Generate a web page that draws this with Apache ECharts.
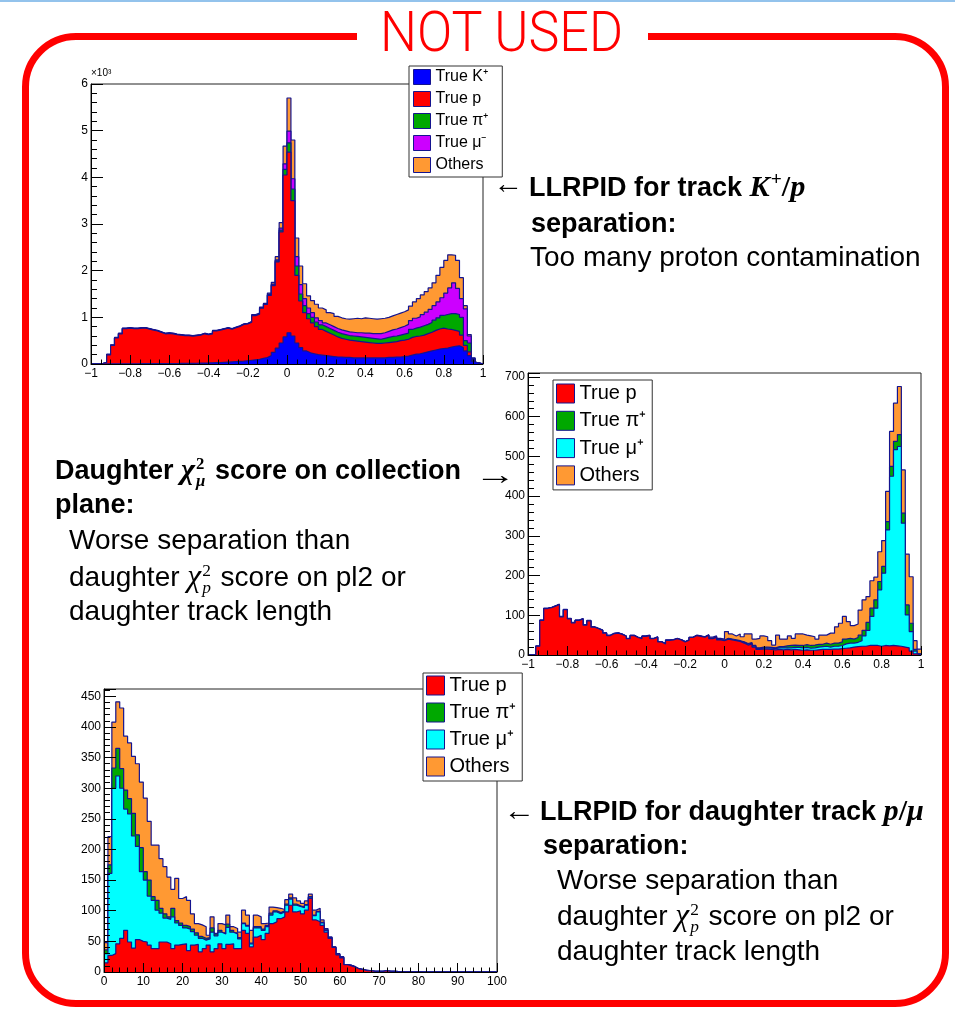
<!DOCTYPE html>
<html>
<head>
<meta charset="utf-8">
<script src="https://cdn.jsdelivr.net/npm/echarts/dist/echarts.min.js"></script>
<style>
html,body{margin:0;padding:0;background:#fff;width:955px;height:1012px;overflow:hidden;}
#topline{position:absolute;left:0;top:0;width:955px;height:2px;background:#93c3ec;}
#frame{position:absolute;left:22px;top:32.5px;width:927px;height:974px;box-sizing:border-box;border:7px solid #ff0000;border-radius:54px;}
#gap{position:absolute;left:357px;top:26px;width:291px;height:20px;background:#fff;}
#chart{position:absolute;left:0;top:0;width:955px;height:1012px;}
.t{position:absolute;white-space:nowrap;font-family:'Liberation Sans',Arial,Helvetica,sans-serif;line-height:1;color:#000;transform-origin:0 0;}
.b{font-weight:bold;font-size:27px;}
.r{font-size:28px;}
.m{font-family:'Liberation Serif','DejaVu Serif',serif;font-style:italic;font-size:1.12em;}
.mr{font-family:'Liberation Serif','DejaVu Serif',serif;font-style:normal;font-size:1.12em;}
.sp{font-family:'Liberation Serif','DejaVu Serif',serif;font-size:0.72em;position:relative;top:-0.55em;margin-left:1px;}
.ss{display:inline-block;font-family:'Liberation Serif','DejaVu Serif',serif;font-size:0.62em;line-height:1;vertical-align:-0.4em;margin-left:1px;margin-right:2px;}
.ss>span{display:block;}
.mi{font-style:italic;}
#title{font-family:'Roboto','Liberation Sans',sans-serif;font-weight:300;font-size:55px;color:#ff0000;}
</style>
</head>
<body>
<div id="topline"></div>
<div id="frame"></div>
<div id="gap"></div>
<div id="chart"></div>

<div class="t" id="title" data-w="243" style="left:380px;top:5px;">NOT USED</div>

<!-- annotation 1 -->
<div class="t r" data-w="30" style="left:493px;top:170px;">←</div>
<div class="t b" style="left:529px;top:171px;">LLRPID for track <span class="m">K</span><span class="sp">+</span><span class="mr">/</span><span class="m">p</span></div>
<div class="t b" style="left:531px;top:210px;">separation:</div>
<div class="t r" style="left:530px;top:243px;">Too many proton contamination</div>

<!-- annotation 2 -->
<div class="t b" style="left:55px;top:454px;">Daughter <span class="m">χ</span><span class="ss"><span>2</span><span class="mi">μ</span></span> score on collection</div>
<div class="t r" data-w="42" style="left:474px;top:461px;">→</div>
<div class="t b" style="left:55px;top:491px;">plane:</div>
<div class="t r" style="left:69px;top:526px;">Worse separation than</div>
<div class="t r" style="left:69px;top:560px;">daughter <span class="m">χ</span><span class="ss"><span>2</span><span class="mi">p</span></span> score on pl2 or</div>
<div class="t r" style="left:69px;top:597px;">daughter track length</div>

<!-- annotation 3 -->
<div class="t r" data-w="32" style="left:503px;top:797px;">←</div>
<div class="t b" style="left:540px;top:795px;">LLRPID for daughter track <span class="m">p</span><span class="mr">/</span><span class="m">μ</span></div>
<div class="t b" style="left:543px;top:832px;">separation:</div>
<div class="t r" style="left:557px;top:866px;">Worse separation than</div>
<div class="t r" style="left:557px;top:899px;">daughter <span class="m">χ</span><span class="ss"><span>2</span><span class="mi">p</span></span> score on pl2 or</div>
<div class="t r" style="left:557px;top:937px;">daughter track length</div>

<script>
// ---------------- DATA ----------------
// Chart 1: LLRPID for track K+/p  (100 bins on [-1,1], counts in units of 10^3)
const c1K = [0,0,0,.002,.005,.005,.005,.005,.005,.005,
 .005,.005,.006,.006,.006,.007,.007,.008,.008,.009,
 .010,.010,.012,.012,.013,.015,.016,.018,.020,.022,
 .025,.028,.030,.035,.040,.045,.050,.055,.060,.070,
 .080,.090,.100,.120,.140,.180,.250,.340,.450,.580,
 .670,.600,.450,.350,.280,.240,.220,.200,.190,.180,
 .170,.160,.150,.150,.140,.140,.130,.130,.130,.130,
 .130,.130,.130,.130,.130,.140,.140,.150,.150,.160,
 .170,.190,.210,.220,.240,.260,.280,.300,.320,.330,
 .340,.360,.380,.390,.350,.280,.180,.050,.010,0];
const c1P = [0,0,.010,.028,.192,.392,.552,.642,.752,.762,
 .752,.752,.761,.761,.741,.720,.700,.669,.639,.648,
 .637,.617,.605,.595,.594,.582,.591,.599,.627,.605,
 .622,.679,.697,.712,.727,.702,.727,.752,.787,.787,
 .817,.945,.965,1.075,1.135,1.290,1.430,1.850,2.380,3.470,
 3.870,2.900,1.450,1.000,.820,.730,.660,.600,.550,.520,
 .490,.460,.430,.400,.390,.370,.370,.360,.350,.340,
 .330,.320,.310,.310,.320,.320,.330,.330,.350,.350,
 .360,.380,.380,.380,.380,.390,.400,.420,.430,.440,
 .410,.380,.340,.310,.270,.120,.080,.020,.005,0];
const c1Pi = [0,0,0,0,.003,.003,.003,.003,.003,.003,
 .003,.003,.003,.003,.003,.003,.003,.003,.003,.003,
 .003,.003,.003,.003,.003,.003,.003,.003,.003,.003,
 .003,.003,.003,.003,.003,.003,.003,.003,.003,.003,
 .003,.005,.005,.005,.005,.010,.015,.020,.040,.120,
 .200,.250,.200,.150,.150,.110,.120,.100,.100,.100,
 .100,.100,.100,.100,.100,.100,.100,.100,.100,.100,
 .100,.100,.100,.090,.100,.110,.120,.120,.120,.130,
 .130,.170,.180,.190,.200,.200,.210,.220,.240,.270,
 .310,.340,.360,.360,.380,.100,.190,.030,.005,0];
const c1Mu = [0,0,0,0,.002,.002,.002,.002,.002,.002,
 .002,.002,.002,.002,.002,.002,.002,.002,.002,.002,
 .002,.002,.002,.002,.002,.002,.002,.002,.002,.002,
 .002,.002,.002,.002,.002,.002,.002,.002,.002,.002,
 .002,.005,.005,.005,.005,.010,.015,.020,.040,.120,
 .250,.220,.200,.200,.150,.120,.100,.090,.090,.080,
 .080,.080,.080,.080,.080,.080,.080,.080,.090,.090,
 .100,.100,.110,.120,.120,.130,.140,.150,.160,.170,
 .190,.190,.210,.220,.240,.260,.280,.310,.340,.380,
 .460,.550,.660,.560,.400,.680,.150,.020,.005,0];
const c1Oth = [0,0,0,0,.008,.008,.008,.008,.008,.008,
 .008,.008,.008,.008,.008,.008,.008,.008,.008,.008,
 .008,.008,.008,.008,.008,.008,.008,.008,.008,.008,
 .008,.008,.008,.008,.008,.008,.008,.008,.008,.008,
 .008,.015,.015,.015,.015,.030,.040,.070,.120,.380,
 .710,.830,.400,.400,.320,.260,.260,.290,.270,.280,
 .260,.280,.260,.260,.260,.270,.290,.310,.300,.330,
 .320,.320,.310,.320,.310,.300,.300,.310,.310,.310,
 .310,.310,.350,.390,.420,.440,.460,.490,.570,.650,
 .700,.710,.590,.600,.450,.070,.030,.010,.005,0];

// Chart 2: daughter chi2_mu score on collection plane (100 bins on [-1,1])
const c2P = [0,0,22,87,117,119,123,127,96,114,
 91,81,87,91,75,86,70,66,62,55,
 49,54,55,52,47,41,49,44,41,47,
 49,41,45,33,28,37,38,41,38,33,
 37,44,49,47,45,50,41,44,38,36,
 40,38,36,34,30,25,28,20,14,15,
 15,14,13,14,13,14,13,14,13,12,
 13,12,12,13,14,14,14,15,15,16,
 17,18,20,21,22,22,24,24,24,22,
 24,23,24,23,22,20,18,10,3,0];
const c2Mu = [0,0,0,0,0,0,0,0,0,0,
 0,0,0,0,0,0,0,0,0,0,
 0,0,0,0,0,0,0,0,0,0,
 0,0,0,0,0,0,0,0,0,0,
 0,0,0,0,0,0,1,1,1,1,
 1,1,1,1,2,2,2,2,2,2,
 3,3,3,4,5,4,5,5,6,6,
 6,5,6,7,7,8,6,7,7,8,
 11,12,10,11,14,26,38,73,94,142,
 182,292,426,494,503,312,83,49,7,2];
const c2Pi = [0,0,0,0,0,0,0,0,0,0,
 0,0,0,0,0,0,0,0,0,0,
 0,0,0,0,0,0,0,0,0,0,
 0,0,0,0,0,0,0,0,0,0,
 0,0,0,0,0,0,0,0,0,0,
 1,1,1,1,1,2,1,2,2,3,
 2,2,2,3,3,5,6,6,5,6,
 7,7,7,7,6,8,7,8,8,9,
 12,12,10,12,14,14,20,21,21,21,
 17,21,25,21,30,25,25,21,4,1];
const c2Oth = [0,0,1,1,1,1,1,1,1,1,
 1,1,1,1,1,1,1,1,1,1,
 1,1,1,1,1,1,1,1,1,1,
 1,1,1,1,1,1,1,1,1,1,
 1,1,1,1,1,1,3,3,3,3,
 17,13,10,17,13,24,22,16,24,28,
 26,17,7,29,19,17,24,17,29,29,
 24,24,21,13,23,20,28,25,41,47,
 57,42,34,34,63,77,65,69,57,75,
 65,76,88,96,121,109,128,117,22,12];

// Chart 3: LLRPID for daughter track p/mu (100 bins on [0,100])
const c3P = [15,27,30,46,55,68,49,39,53,50,
 49,44,38,38,49,49,46,38,44,45,
 46,35,44,45,33,38,44,33,38,46,
 38,45,46,38,38,68,63,41,57,60,
 53,63,79,82,87,90,98,109,98,100,
 95,101,120,85,82,76,65,55,40,28,
 23,12,10,8,5,4,2,2,1,1,
 1,2,1,1,0.5,0.5,0,0.5,0,0.5,
 0,0,0,0,0,0,0,0,0,0,
 0,0,0,0,0,0,0,0,0,0];
const c3Mu = [15,134,270,274,245,198,209,183,152,114,
 101,80,79,63,47,39,40,52,36,31,
 26,35,22,15,22,14,10,32,21,19,
 24,28,19,24,16,11,12,5,15,12,
 15,11,14,16,8,8,11,10,11,7,
 10,8,2,7,16,4,3,1,0,1,
 1,0,1,0,0,0,0,0,0,0,
 0,0,0,0,0,0,0,0,0,0,
 0,0,0,0,0,0,0,0,0,0,
 0,0,0,0,0,0,0,0,0,0];
const c3Pi = [6,14,33,45,32,31,25,37,19,39,
 14,26,6,16,8,7,4,14,4,4,
 4,4,4,4,3,3,2,7,3,3,
 2,5,3,2,2,1,1,1,2,2,
 2,2,3,2,2,2,2,2,2,1,
 1,1,1,1,1,1,1,1,1,0,
 0,0,0,0,0,0,0,0,0,0,
 0,0,0,0,0,0,0,0,0,0,
 0,0,0,0,0,0,0,0,0,0,
 0,0,0,0,0,0,0,0,0,0];
const c3Oth = [12,46,75,76,99,88,91,93,116,107,
 120,96,84,90,81,77,65,31,69,40,
 47,43,25,15,19,19,4,18,1,11,
 13,15,6,7,9,21,17,21,19,16,
 9,4,10,5,7,2,7,6,10,8,
 6,6,4,8,5,4,2,0,0,1,
 1,0,0,1,0,0,1,0,0,0,
 0,0,0,0,0,0,0,0,0,0,
 0,0,0,0,0,0,0,0,0,0,
 0,0,0,0,0,0,0,0,0,0];

// bin edges (101 edges for 100 bins)
const edgesPID = Array.from({length:101}, (_, i) => +(-1 + i * 0.02).toFixed(2));
const edgesLen = Array.from({length:101}, (_, i) => i);

// legend names
const N_K = 'True K\u207A', N_P = 'True p', N_PI = 'True \u03C0\u207A',
      N_MUM = 'True \u03BC\u207B', N_MUP = 'True \u03BC\u207A', N_OTH = 'Others';

// ---------------- STYLE ----------------
const NAVY = '#14148f';
const COL = {K:'#0000ff', P:'#ff0000', PI:'#00a800', MUM:'#cc00ff', MUP:'#00ffff', OTH:'#ff9933'};
const FONT = 'Liberation Sans';

// Stacked histogram layers, drawn like ROOT's THStack (cumulative, bottom layer on top)
function stackLayers(edges, layers, idx) {
  const out = [];
  let cum = edges.map(() => 0);
  const n = layers.length;
  layers.forEach((L, j) => {
    cum = cum.map((c, i) => c + L.vals[Math.min(i, L.vals.length - 1)]);
    out.push({
      type: 'line', name: L.name, xAxisIndex: idx, yAxisIndex: idx,
      data: edges.map((x, i) => [x, cum[i]]),
      step: 'end', symbol: 'none', showSymbol: false,
      color: L.color,
      lineStyle: {color: NAVY, width: 1.2},
      areaStyle: {color: L.color, opacity: 1},
      z: 2 + (n - j), silent: true, animation: false,
      emphasis: {disabled: true}
    });
  });
  return out;
}

function minusFmt(v) {
  const a = Math.round(Math.abs(v) * 10) / 10;
  return (v < -1e-9 ? '\u2212' : '') + a;
}

function xAx(gi, min, max, interval, minorSplit, fmt) {
  return {
    type: 'value', gridIndex: gi, min, max, interval, z: 50,
    axisLine: {show: true, onZero: false, lineStyle: {color: '#000', width: 1}},
    axisTick: {show: true, inside: true, length: 9, lineStyle: {color: '#000', width: 1}},
    minorTick: {show: true, splitNumber: minorSplit, length: 4.5, lineStyle: {color: '#000', width: 1}},
    splitLine: {show: false}, minorSplitLine: {show: false},
    axisLabel: {margin: 4, fontSize: 12, color: '#000', fontFamily: FONT, formatter: fmt,
                showMinLabel: true, showMaxLabel: true}
  };
}
function yAx(gi, max, interval, showMax, extra) {
  return Object.assign({
    type: 'value', gridIndex: gi, min: 0, max, interval, z: 50,
    axisLine: {show: true, onZero: false, lineStyle: {color: '#000', width: 1}},
    axisTick: {show: true, inside: true, length: 12, lineStyle: {color: '#000', width: 1}},
    minorTick: {show: true, splitNumber: 5, length: 6, lineStyle: {color: '#000', width: 1}},
    splitLine: {show: false}, minorSplitLine: {show: false},
    axisLabel: {margin: 3, fontSize: 12, color: '#000', fontFamily: FONT, showMaxLabel: showMax}
  }, extra || {});
}
function legendAt(left, top, pad, iw, ih, gap, fs, items) {
  return {
    show: true, orient: 'vertical', left, top, padding: pad,
    itemWidth: iw, itemHeight: ih, itemGap: gap, icon: 'rect',
    backgroundColor: '#fff', borderColor: '#333', borderWidth: 1, z: 60,
    selectedMode: false,
    textStyle: {fontFamily: FONT, fontSize: fs, color: '#000', lineHeight: ih},
    itemStyle: {borderColor: NAVY, borderWidth: 1},
    data: items.map(it => ({name: it[0], icon: 'rect', itemStyle: {color: it[1], borderColor: NAVY, borderWidth: 1}}))
  };
}

const chart = echarts.init(document.getElementById('chart'), null, {renderer: 'canvas'});
const series = [].concat(
  stackLayers(edgesPID, [
    {name: N_K, vals: c1K, color: COL.K},
    {name: N_P, vals: c1P, color: COL.P},
    {name: N_PI, vals: c1Pi, color: COL.PI},
    {name: N_MUM, vals: c1Mu, color: COL.MUM},
    {name: N_OTH, vals: c1Oth, color: COL.OTH}
  ], 0),
  stackLayers(edgesPID, [
    {name: N_P, vals: c2P, color: COL.P},
    {name: N_MUP, vals: c2Mu, color: COL.MUP},
    {name: N_PI, vals: c2Pi, color: COL.PI},
    {name: N_OTH, vals: c2Oth, color: COL.OTH}
  ], 1),
  stackLayers(edgesLen, [
    {name: N_P, vals: c3P, color: COL.P},
    {name: N_MUP, vals: c3Mu, color: COL.MUP},
    {name: N_PI, vals: c3Pi, color: COL.PI},
    {name: N_OTH, vals: c3Oth, color: COL.OTH}
  ], 2)
);

chart.setOption({
  animation: false,
  grid: [
    {left: 91, top: 84, width: 392, height: 280, show: true, borderColor: '#222', borderWidth: 1, backgroundColor: 'transparent'},
    {left: 528, top: 373, width: 393, height: 282, show: true, borderColor: '#222', borderWidth: 1, backgroundColor: 'transparent'},
    {left: 104, top: 689, width: 393, height: 283, show: true, borderColor: '#222', borderWidth: 1, backgroundColor: 'transparent'}
  ],
  xAxis: [
    xAx(0, -1, 1, 0.2, 4, minusFmt),
    xAx(1, -1, 1, 0.2, 4, minusFmt),
    xAx(2, 0, 100, 10, 5, v => String(v))
  ],
  yAxis: [
    yAx(0, 6, 1, true, {name: '\u00D710\u00B3', nameLocation: 'end', nameGap: 2,
        nameTextStyle: {fontFamily: FONT, fontSize: 10, color: '#000', align: 'left', verticalAlign: 'bottom'}}),
    yAx(1, 710, 100, false),
    yAx(2, 462, 50, false)
  ],
  legend: [
    legendAt(409, 66, [3, 14, 4, 4], 17, 15, 6, 16,
      [[N_K, COL.K], [N_P, COL.P], [N_PI, COL.PI], [N_MUM, COL.MUM], [N_OTH, COL.OTH]]),
    legendAt(553, 380, [3.5, 6, 4.5, 3], 18, 19, 7.3, 20,
      [[N_P, COL.P], [N_PI, COL.PI], [N_MUP, COL.MUP], [N_OTH, COL.OTH]]),
    legendAt(423, 673, [2.5, 6, 4.5, 3], 18, 19, 7, 20,
      [[N_P, COL.P], [N_PI, COL.PI], [N_MUP, COL.MUP], [N_OTH, COL.OTH]])
  ],
  series: series
});

// fit widths of title and arrow glyphs
function fitAll() {
  document.querySelectorAll('[data-w]').forEach(el => {
    el.style.transform = '';
    const w = el.getBoundingClientRect().width;
    if (w > 0) el.style.transform = 'scaleX(' + (parseFloat(el.dataset.w) / w) + ')';
  });
}
fitAll();
if (document.fonts && document.fonts.ready) document.fonts.ready.then(fitAll);
</script>
</body>
</html>
